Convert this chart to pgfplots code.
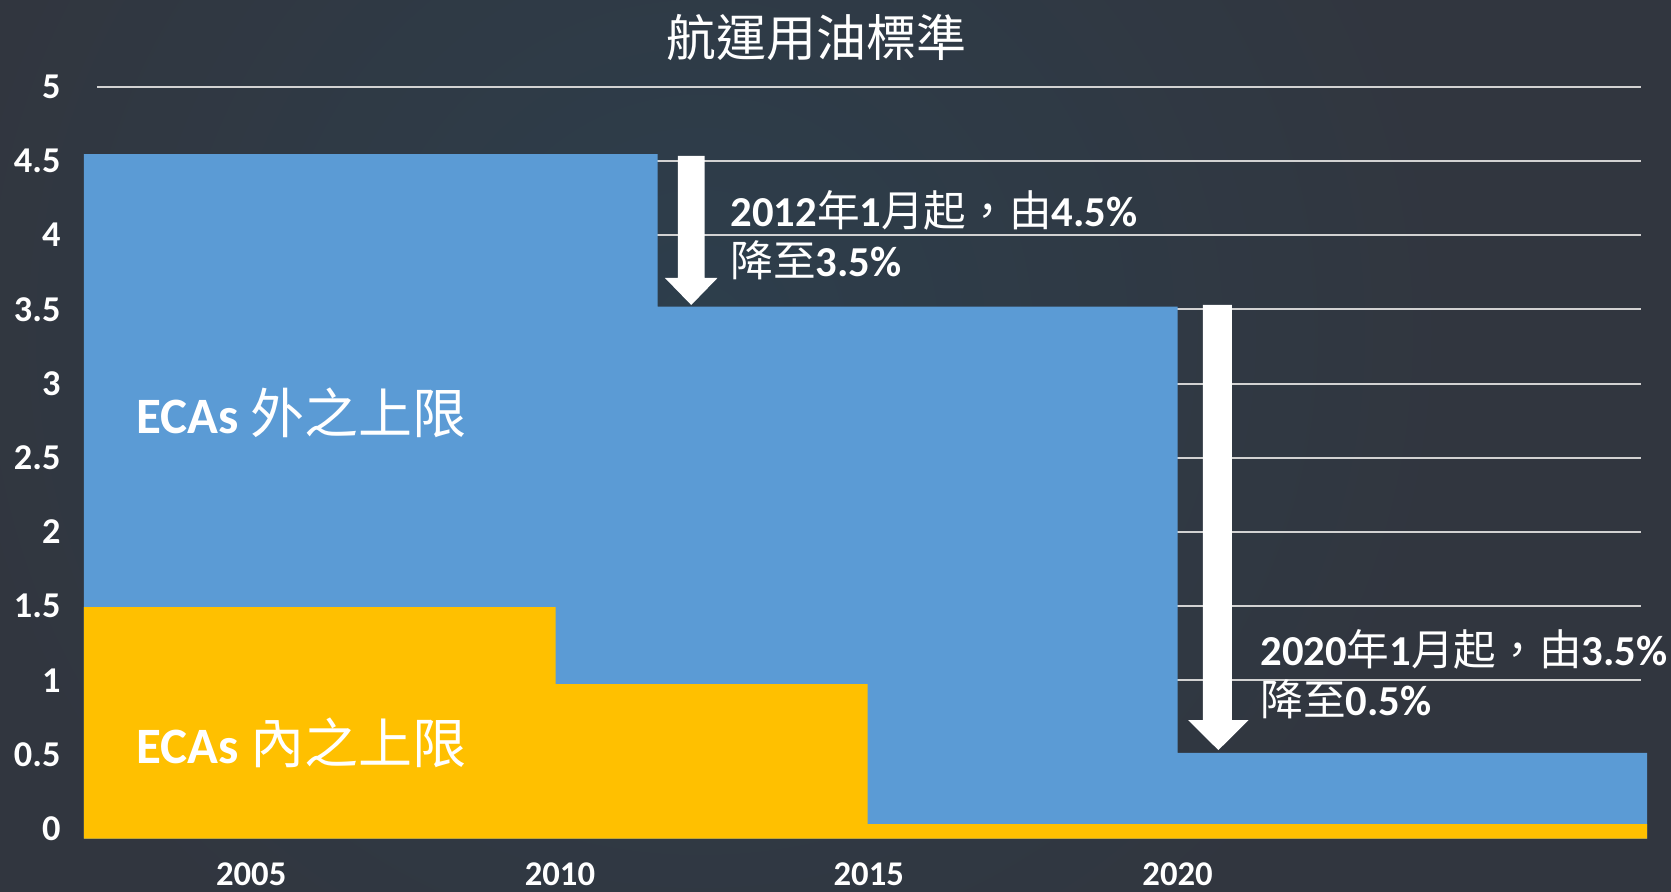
\documentclass[border=0pt]{standalone}
\usepackage{pgfplots}
\pgfplotsset{compat=1.18}
\usepackage{fontspec}
\setmainfont{Carlito}
\newfontfamily\cjk{Noto Sans CJK TC}
\definecolor{bgA}{HTML}{31363F}
\definecolor{bgB}{HTML}{2D3E4C}
\definecolor{eblue}{HTML}{5B9BD5}
\definecolor{egold}{HTML}{FFC000}
\definecolor{gridc}{HTML}{D2D2D2}

\begin{document}
\begin{tikzpicture}
\useasboundingbox (0,0) rectangle (501.3pt,267.6pt);
\fill[bgA] (0,0) rectangle (501.3pt,267.6pt);
\begin{scope}
\clip (0,0) rectangle (501.3pt,267.6pt);
\shade[inner color=bgB, outer color=bgA] (210pt,168pt) circle (228pt);
\end{scope}
\begin{axis}[
  at={(25.14pt,15.99pt)}, anchor=south west,
  scale only axis,
  width=468.96pt, height=225.6pt,
  xmin=2002.29, xmax=2027.6,
  ymin=-0.067, ymax=5,
  clip=false,
  axis line style={draw=none},
  tick style={draw=none},
  major tick length=0pt,
  xtick={2005,2010,2015,2020},
  ytick={0,0.5,1,1.5,2,2.5,3,3.5,4,4.5,5},
  /pgf/number format/.cd, 1000 sep={}, assume math mode=true,
  /pgfplots/.cd,
  xticklabel style={anchor=north, inner sep=0pt, yshift=-7pt, text=white,
     font=\bfseries\fontsize{10.4}{12}\selectfont},
  yticklabel style={anchor=east, inner sep=0pt, xshift=-6.8pt, text=white,
     font=\bfseries\fontsize{10.9}{12}\selectfont},
]
% grid lines
\pgfplotsinvokeforeach{0,0.5,1,1.5,2,2.5,3,3.5,4,4.5,5}{
  \draw[gridc, line width=0.6pt] (axis cs:2002.51,#1) -- (axis cs:2027.5,#1);
}
% ECAs outside limit
\addplot[fill=eblue, draw=none] coordinates {
  (2002.29,-0.067) (2002.29,4.546) (2011.58,4.546) (2011.58,3.518)
  (2020.0,3.518) (2020.0,0.512) (2027.6,0.512) (2027.6,-0.067)
} -- cycle;
% ECAs inside limit
\addplot[fill=egold, draw=none] coordinates {
  (2002.29,-0.067) (2002.29,1.494) (2009.93,1.494) (2009.93,0.975)
  (2014.98,0.975) (2014.98,0.032) (2027.6,0.032) (2027.6,-0.067)
} -- cycle;
% arrows
\fill[white] (axis cs:2011.91,4.533) -- (axis cs:2012.34,4.533) -- (axis cs:2012.34,3.711)
  -- (axis cs:2012.55,3.711) -- (axis cs:2012.125,3.529) -- (axis cs:2011.70,3.711)
  -- (axis cs:2011.91,3.711) -- cycle;
\fill[white] (axis cs:2020.41,3.530) -- (axis cs:2020.88,3.530) -- (axis cs:2020.88,0.7325)
  -- (axis cs:2021.15,0.7325) -- (axis cs:2020.66,0.530) -- (axis cs:2020.17,0.7325)
  -- (axis cs:2020.41,0.7325) -- cycle;
% texts
\node[text=white, font=\cjk\fontsize{15}{18}\selectfont] at (axis cs:2014.15,5.33) {航運用油標準};
\node[anchor=base west, inner sep=0pt, text=white, font=\fontsize{15.3}{18}\selectfont]
  at (axis cs:2003.13,2.664) {\textbf{ECAs} {\cjk\fontsize{16.2}{18}\selectfont 外之上限}};
\node[anchor=base west, inner sep=0pt, text=white, font=\fontsize{15.3}{18}\selectfont]
  at (axis cs:2003.13,0.441) {\textbf{ECAs} {\cjk\fontsize{16.2}{18}\selectfont 內之上限}};
\node[anchor=base west, inner sep=0pt, text=white, font=\fontsize{12.8}{15}\selectfont]
  at (axis cs:2012.75,4.057) {\textbf{2012}{\cjk 年}\textbf{1}{\cjk 月起，由}\textbf{4.5\%}};
\node[anchor=base west, inner sep=0pt, text=white, font=\fontsize{12.8}{15}\selectfont]
  at (axis cs:2012.75,3.72) {{\cjk 降至}\textbf{3.5\%}};
\node[anchor=base west, inner sep=0pt, text=white, font=\fontsize{12.8}{15}\selectfont]
  at (axis cs:2021.33,1.103) {\textbf{2020}{\cjk 年}\textbf{1}{\cjk 月起，由}\textbf{3.5\%}};
\node[anchor=base west, inner sep=0pt, text=white, font=\fontsize{12.8}{15}\selectfont]
  at (axis cs:2021.33,0.761) {{\cjk 降至}\textbf{0.5\%}};
\end{axis}
\end{tikzpicture}
\end{document}
